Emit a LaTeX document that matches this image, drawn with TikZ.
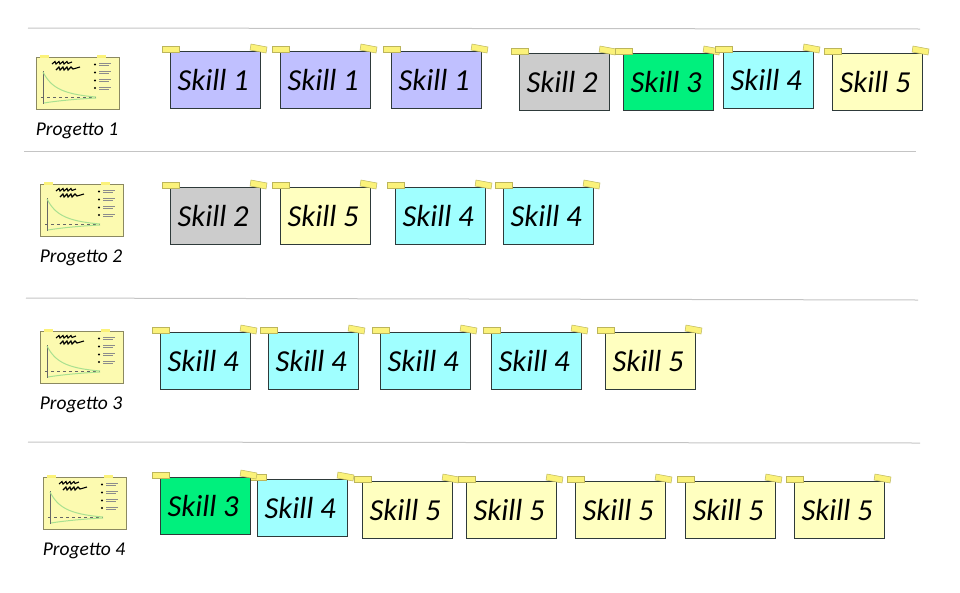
\documentclass[tikz,border=0pt]{standalone}
\usepackage{fontspec}
\setmainfont{Lato}
\newfontfamily\handfont[ItalicFont=* Italic]{Carlito}
\definecolor{cblue}{HTML}{C0C0FF}
\definecolor{cgray}{HTML}{CCCCCC}
\definecolor{cgreen}{HTML}{00F07D}
\definecolor{ccyan}{HTML}{A0FFFF}
\definecolor{cyell}{HTML}{FFFFC0}
\definecolor{tapec}{HTML}{FBF27A}
\definecolor{inkc}{HTML}{2E3A3A}
\definecolor{rulec}{HTML}{C4C4C4}
\definecolor{iconc}{HTML}{FCFAB0}
\definecolor{curvec}{HTML}{A8E090}
\tikzset{
  x=1pt,y=-1pt,
  note/.style={draw=inkc,line width=1.3pt,minimum width=90pt,minimum height=57pt,inner sep=0pt,anchor=north west,
    font=\handfont\itshape\fontsize{30.5}{30}\selectfont,text=black},
  tape/.style={fill=tapec,draw=black!25!tapec,line width=.5pt},
  rule/.style={draw=rulec,line width=1pt},
  caption/.style={font=\handfont\itshape\fontsize{19.5}{19}\selectfont,text=black},
  iconbox/.style={draw=black!45!iconc,fill=iconc,line width=.8pt,minimum width=83pt,minimum height=52pt,inner sep=0pt,anchor=north west},
}
% name, x, y, colour, text
\newcommand{\stickynote}[5]{%
  \node[note,fill=#4] (#1) at (#2,#3) {#5\kern5pt};
  \begin{scope}[shift={(#2,#3)}]
    \draw[tape] (-8,-5) -- (9,-5) -- (9,1) -- (-8,1) -- cycle;
    \draw[tape] (81,-7) -- (97,-4) -- (96,2) -- (80,-1) -- cycle;
  \end{scope}}
% name, x, y, caption
\newcommand{\projecticon}[4]{%
  \node[iconbox] (#1) at (#2,#3) {};
  \node[caption] (#1t) at (#2+41,#3+74) {#4};
  \begin{scope}[shift={(#2,#3)}]
    \fill[tapec] (4,-2) rectangle (13,1);
    \fill[tapec] (61,-2) rectangle (70,1);
    % title scribbles
    \draw[black,line width=1.1pt] (16,7) -- (19,4.5) -- (20,7) -- (23,4.5) -- (24,7) -- (27,4.5) -- (28,7) -- (31,4.5) -- (32,6.5) -- (36,5);
    \draw[black,line width=1.1pt] (20,13) -- (23,10) -- (24,13) -- (27,10) -- (28,13) -- (31,10) -- (32,13) -- (35,10) -- (37,12) -- (44,10);
    % bullets
    \foreach \yy in {7.5,15.5,23.5,31} {
      \fill[black] (59,\yy) circle (1.2pt);
      \draw[black!45,line width=.5pt] (63,\yy-1) -- (75,\yy-1);
      \draw[black!45,line width=.5pt] (63,\yy+1) -- (73,\yy+1);
    }
    % plot
    \draw[black!60,line width=.5pt] (7,14) -- (7,47);
    \draw[black!60,line width=.5pt,dashed] (5,40.5) -- (60,40.5);
    \draw[curvec,line width=1pt] (7,15) .. controls (15,30) and (25,37) .. (60,40);
    \draw[curvec,line width=1pt] (8,46) .. controls (20,44) and (40,42) .. (60,41);
  \end{scope}}
\begin{document}
\begin{tikzpicture}
\useasboundingbox (0,0) rectangle (960,592);
\draw[rule] (28,28) -- (920,29);
\draw[rule] (24,151) -- (916,151);
\draw[rule] (26,298) -- (918,300);
\draw[rule] (28,442) -- (920,443);

\projecticon{pa}{36}{57}{Progetto 1}
\projecticon{pb}{40}{184}{Progetto 2}
\projecticon{pc}{40}{331}{Progetto 3}
\projecticon{pd}{43}{477}{Progetto 4}

\stickynote{a1}{170}{51}{cblue}{Skill 1}
\stickynote{a2}{280}{51}{cblue}{Skill 1}
\stickynote{a3}{391}{51}{cblue}{Skill 1}
\stickynote{a4}{519}{53}{cgray}{Skill 2}
\stickynote{a5}{623}{53}{cgreen}{Skill 3}
\stickynote{a6}{723}{51}{ccyan}{Skill 4}
\stickynote{a7}{832}{53}{cyell}{Skill 5}

\stickynote{b1}{170}{187}{cgray}{Skill 2}
\stickynote{b2}{280}{187}{cyell}{Skill 5}
\stickynote{b3}{395}{187}{ccyan}{Skill 4}
\stickynote{b4}{503}{187}{ccyan}{Skill 4}

\stickynote{c1}{160}{332}{ccyan}{Skill 4}
\stickynote{c2}{268}{332}{ccyan}{Skill 4}
\stickynote{c3}{380}{332}{ccyan}{Skill 4}
\stickynote{c4}{491}{332}{ccyan}{Skill 4}
\stickynote{c5}{605}{332}{cyell}{Skill 5}

\stickynote{d2}{257}{479}{ccyan}{Skill 4}
\stickynote{d1}{160}{477}{cgreen}{Skill 3}
\stickynote{d3}{362}{481}{cyell}{Skill 5}
\stickynote{d4}{466}{481}{cyell}{Skill 5}
\stickynote{d5}{575}{481}{cyell}{Skill 5}
\stickynote{d6}{685}{481}{cyell}{Skill 5}
\stickynote{d7}{794}{481}{cyell}{Skill 5}
\end{tikzpicture}
\end{document}
